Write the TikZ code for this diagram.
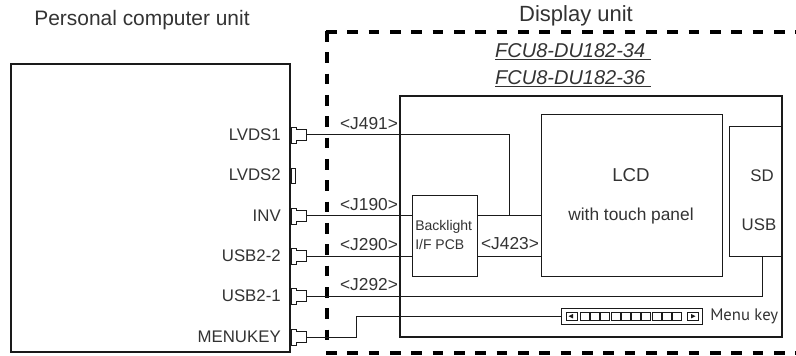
\documentclass[tikz,border=0pt]{standalone}
\usepackage{fontspec}
\setmainfont{Liberation Sans}
\newfontfamily\menufont{PT Sans}
\definecolor{ink}{HTML}{1A1A1A}
\definecolor{txt}{HTML}{333333}
\tikzset{
  px/.style={x=0.75pt,y=-0.75pt},
  boxthick/.style={draw=ink,line width=1.35pt,fill=white,inner sep=0,outer sep=0},
  boxthin/.style={draw=ink,line width=0.75pt,fill=white,inner sep=0,outer sep=0},
  wire/.style={draw=ink,line width=0.75pt},
  conn/.style={draw=ink,line width=0.7pt,fill=white},
  keycap/.style={draw=ink,line width=0.5pt},
  lab/.style={text=txt,font=\fontsize{12.6pt}{14pt}\selectfont,inner sep=0},
  wirelab/.style={text=txt,font=\fontsize{13pt}{15pt}\selectfont,inner sep=0},
  head/.style={text=txt,font=\fontsize{15.7pt}{18pt}\selectfont,inner sep=0},
  fcu/.style={text=txt,font=\fontsize{15pt}{17pt}\selectfont\itshape,inner sep=0},
  small/.style={text=txt,font=\fontsize{10.5pt}{12pt}\selectfont,inner sep=0,anchor=west},
  dashline/.style={draw=black,line width=3.4pt,dash pattern=on 8pt off 8pt},
}
\newcommand{\boxat}[5]{\node[#1,minimum width=#4*0.75pt,minimum height=#5*0.75pt,anchor=north west] (#2) at #3 {};}
\begin{document}
\begin{tikzpicture}[px]
\useasboundingbox (0,0) rectangle (796,356);
% dashed enclosure
\coordinate (dtl) at (326,32);
\coordinate (dtr) at (796,32);
\coordinate (dls) at (327,31);
\coordinate (dle) at (327,346);
\coordinate (dbl) at (326,353);
\coordinate (dbr) at (796,353);
\draw[dashline] (dtl) -- (dtr);
\draw[dashline] (dls) -- (dle);
\draw[dashline] (dbl) -- (dbr);
% main boxes
\boxat{boxthick}{pc}{(11,64)}{279}{288}
\boxat{boxthick}{du}{(400,96)}{382}{241}
\boxat{boxthin}{lcd}{(541,115)}{181}{161}
\boxat{boxthin}{bl}{(412,196)}{65}{80}
% SD box
\boxat{boxthin}{sd}{(729,127)}{53}{129}
\draw[line width=1.35pt,draw=ink] (782,96) -- (782,337);
% connectors on PC
\foreach \n/\y in {a/135,c/216,d/256,e/296,f/337}{
  \draw[conn] (291,\y-7.5) rectangle (296,\y+8);
  \draw[conn] (296,\y-5.5) -- (306,\y-5.5) -- (306,\y+5.5) -- (296,\y+5.5);
  \coordinate (q\n) at (306,\y);
}
\draw[conn] (291,168) rectangle (295,183);
% wires
\coordinate (j1) at (509,135);
\coordinate (j2) at (509,216);
\draw[wire] (qa) -- (j1) -- (j2);
\draw[wire] (qc) -- (bl.west |- qc);
\draw[wire] (qd) -- (bl.west |- qd);
\draw[wire] (bl.east |- j2) -- (lcd.west |- j2);
\coordinate (j3) at (477,256);
\draw[wire] (j3) -- (lcd.west |- j3);
\coordinate (j4) at (762,296);
\coordinate (j5) at (762,256);
\draw[wire] (qe) -- (j4) -- (j5);
\coordinate (m1) at (356,337);
\coordinate (m2) at (356,316);
\boxat{boxthin}{mk}{(561,308)}{141}{16}
\draw[wire] (qf) -- (m1) -- (m2) -- (mk.west |- m2);
% menu key buttons
\draw[keycap] (566,312.5) rectangle (577,320);
\fill[ink] (568.5,316.2) -- (573,314) -- (573,318.4) -- cycle;
\foreach \i in {0,...,9}{
  \draw[keycap] ({580+\i*10.3},312.5) rectangle ({589+\i*10.3},320);
}
\draw[keycap] (687,312.5) rectangle (698,320);
\fill[ink] (695.5,316.2) -- (691,314) -- (691,318.4) -- cycle;
% texts
\node[head] (t1) at (142,20) {Personal computer unit};
\node[head,font=\fontsize{16.5pt}{18pt}\selectfont] (t2) at (576,16) {Display unit};
\node[fcu] (t3) at (573,52) {\underline{FCU8-DU182-34\ }};
\node[fcu] (t4) at (573,79) {\underline{FCU8-DU182-36\ }};
\node[lab,anchor=east] (l1) at (281,135) {LVDS1};
\node[lab,anchor=east] (l2) at (281,175) {LVDS2};
\node[lab,anchor=east] (l3) at (281,216) {INV};
\node[lab,anchor=east] (l4) at (281,256) {USB2-2};
\node[lab,anchor=east] (l5) at (281,296) {USB2-1};
\node[lab,anchor=east] (l6) at (281,337) {MENUKEY};
\node[wirelab] (w1) at (369,124) {<J491>};
\node[wirelab] (w2) at (369,205) {<J190>};
\node[wirelab] (w3) at (369,245) {<J290>};
\node[wirelab] (w4) at (369,285) {<J292>};
\node[wirelab] (w5) at (510,244) {<J423>};
\node[lab,font=\fontsize{14pt}{16pt}\selectfont] (lc1) at (631,175) {LCD};
\node[lab,font=\fontsize{13pt}{15pt}\selectfont] (lc2) at (631,216) {with touch panel};
\node[lab] (s1) at (762,176) {SD};
\node[lab] (s2) at (759,225) {USB};
\node[small] (b1) at (415,227) {Backlight};
\node[small] (b2) at (415,244) {I/F PCB};
\node[text=txt,font=\menufont\fontsize{12.5pt}{14pt}\selectfont,inner sep=0,anchor=west] (mt) at (710,316) {Menu key};
\end{tikzpicture}
\end{document}
